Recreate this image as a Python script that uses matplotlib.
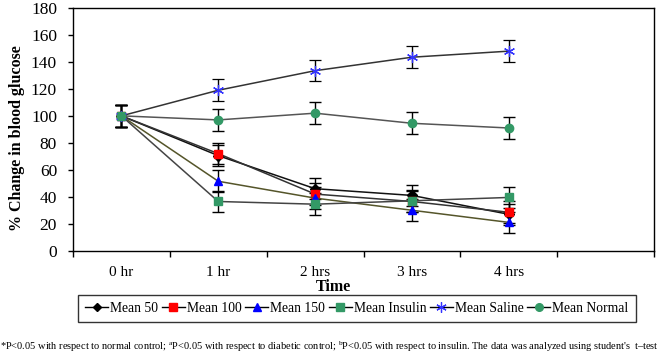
import matplotlib
matplotlib.use("Agg")
import matplotlib.pyplot as plt
from matplotlib.lines import Line2D

plt.rcParams['font.family'] = ['Liberation Serif', 'DejaVu Serif']
plt.rcParams['mathtext.fontset'] = 'custom'
plt.rcParams['mathtext.rm'] = 'Liberation Serif'
plt.rcParams['mathtext.it'] = 'Liberation Serif:italic'

categories = ["0 hr", "1 hr", "2 hrs", "3 hrs", "4 hrs"]
mean50 = [100, 70.5, 46, 41, 27]
mean100 = [100, 72, 42, 36.5, 28.5]
mean150 = [100, 51.5, 39, 30, 21]
mean_insulin = [100, 36.5, 34.5, 37, 39.5]
mean_saline = [100, 119, 133.5, 143.5, 148]
mean_normal = [100, 97, 102, 94.5, 91]
err50 = [8, 8, 8, 8, 8]
err100 = [8, 8, 8, 8, 8]
err150 = [8, 8, 8, 8, 8]
err_insulin = [8, 8, 8, 8, 8]
err_saline = [8, 8, 8, 8, 8]
err_normal = [8, 8, 8, 8, 8]
series_names = ["Mean 50", "Mean 100", "Mean 150", "Mean Insulin", "Mean Saline", "Mean Normal"]
footnote = (r"*P<0.05 with respect to normal control; $^{\mathrm{a}}$P<0.05 with respect to diabetic control; "
            r"$^{\mathrm{b}}$P<0.05 with respect to insulin. The data was analyzed using student's  t–test")

W, H = 663, 355
fig = plt.figure(figsize=(W / 100, H / 100), dpi=100)
ax = fig.add_axes([73 / W, 1 - 250.7 / H, (654 - 73) / W, (250.7 - 8) / H])

x = list(range(len(categories)))
styles = [
    (mean50, err50, dict(color="#111111", marker="D", mfc="black", mec="black", ms=5)),
    (mean100, err100, dict(color="#333333", marker="s", mfc="#ff0000", mec="#ff0000", ms=6)),
    (mean150, err150, dict(color="#55552a", marker="^", mfc="#0000ff", mec="#0000ff", ms=6)),
    (mean_insulin, err_insulin, dict(color="#444444", marker="s", mfc="#339966", mec="#339966", ms=6)),
    (mean_saline, err_saline, dict(color="#333333", marker=(6, 2, 0), mfc="#3333ff", mec="#3333ff", ms=8, mew=0.9)),
    (mean_normal, err_normal, dict(color="#555555", marker="o", mfc="#339966", mec="#339966", ms=6)),
]
handles = []
for (vals, errs, st), name in zip(styles, series_names):
    ax.errorbar(x, vals, yerr=errs, ecolor="black", elinewidth=1, capsize=4, capthick=1,
                lw=1.1, **st)
    hs = {k: v for k, v in st.items() if k != 'color'}
    hs['ms'] = hs['ms'] - 0.5
    handles.append(Line2D([], [], lw=1, color="black", **hs))

ax.set_xlim(-0.5, 5.5)
ax.set_ylim(0, 180)
ax.set_yticks(range(0, 181, 20))
ax.set_xticks(x)
ax.set_xticklabels(categories, fontsize=11)
ax.set_xticks([i - 0.5 for i in range(7)], minor=True)
ax.tick_params(axis='x', which='major', length=0, pad=11)
ax.tick_params(axis='x', which='minor', length=4, direction='out', width=1)
ax.tick_params(axis='y', length=3.5, direction='out', width=1, pad=8, labelsize=12.5)
for s in ax.spines.values():
    s.set_linewidth(1)
ax.set_ylabel("% Change in blood glucose", fontsize=11.5, fontweight='bold')
ax.yaxis.set_label_coords(-(73 - 25) / 581, 0.465)
fig.text(333 / W, 1 - 287 / H, "Time", ha='center', va='center', fontsize=11.5, fontweight='bold')

leg = fig.legend(handles, series_names, loc='center', ncol=6,
                 bbox_to_anchor=((75.7 + 638) / 2 / W, 1 - 308.5 / H),
                 frameon=True, fancybox=False, edgecolor='black', fontsize=9.8,
                 handlelength=1.7, handletextpad=0.15, columnspacing=0.25, borderpad=0.55,
                 borderaxespad=0)
leg.get_frame().set_linewidth(1)

fig.text(0.5 / W, 1 - 347 / H, footnote, ha='left', va='center', fontsize=7.5)

fig.savefig("out.png", dpi=100)
